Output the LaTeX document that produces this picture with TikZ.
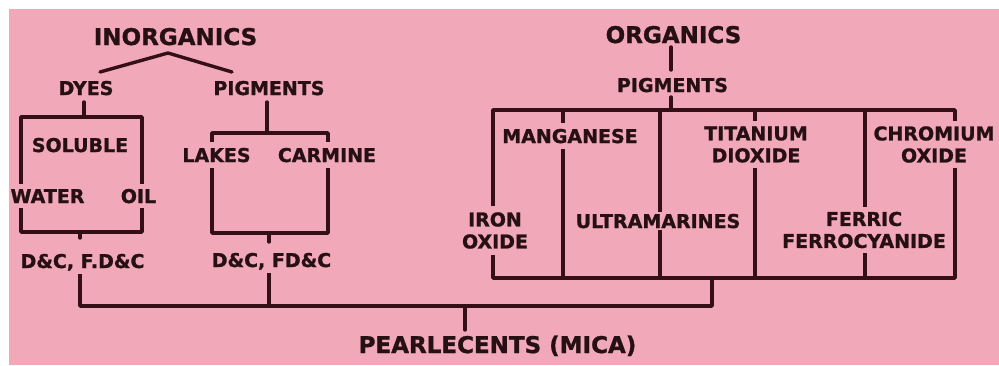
\documentclass[tikz,border=0pt]{standalone}
\usepackage{fontspec}
\setmainfont{DejaVu Sans}[BoldFeatures={FakeBold=1.2}]
\definecolor{bg}{RGB}{241,168,184}
\definecolor{lc}{RGB}{52,16,22}
\definecolor{txt}{RGB}{38,16,20}
\pgfdeclarelayer{bottom}
\pgfdeclarelayer{background}
\pgfsetlayers{bottom,background,main}
\begin{document}
\begin{tikzpicture}[x=1pt,y=-1pt,
  lbl/.style={font=\fontsize{19}{22}\selectfont\bfseries, text=txt, fill=bg, inner xsep=1pt, inner ysep=#1, align=center},
  lbl/.default=3pt,
  ttl/.style={font=\fontsize{23}{26}\selectfont\bfseries, text=txt, inner sep=1pt},
  ln/.style={draw=lc, line width=3.4pt, line join=round, line cap=round}]
\useasboundingbox (0,0) rectangle (999,365);
\begin{pgfonlayer}{bottom}
  \fill[white] (0,0) rectangle (999,365);
  \fill[bg] (9,9) rectangle (999,365);
\end{pgfonlayer}
% labels
\node[ttl, anchor=base] (inorg) at (175.5,45) {INORGANICS};
\node[lbl, anchor=base] (dyes) at (86,95) {DYES};
\node[lbl, anchor=base] (lpig) at (269,95) {PIGMENTS};
\node[lbl, anchor=base] (sol) at (80,152) {SOLUBLE};
\node[lbl=5pt, anchor=base] (water) at (47.5,203) {WATER};
\node[lbl=5pt, anchor=base] (oil) at (138.5,203) {OIL};
\node[lbl, anchor=base] (dc1) at (82.5,268) {D\&C, F.D\&C};
\node[lbl=6pt, anchor=base] (lakes) at (216.5,162) {LAKES};
\node[lbl=6pt, anchor=base] (carm) at (327,162) {CARMINE};
\node[lbl, anchor=base] (dc2) at (271.5,267) {D\&C, FD\&C};
\node[ttl, anchor=base] (pearl) at (497.5,353) {PEARLECENTS (MICA)};
\node[ttl, anchor=base] (org) at (673.5,43) {ORGANICS};
\node[lbl, anchor=base] (opig) at (672.5,92) {PIGMENTS};
\node[lbl=6pt, anchor=base] (mang) at (570,143) {MANGANESE};
\node[lbl=5pt] (ti) at (756,144.5) {TITANIUM\\DIOXIDE};
\node[lbl=5pt] (chrom) at (934,144.5) {CHROMIUM\\OXIDE};
\node[lbl=6pt] (iron) at (495,230.5) {IRON\\OXIDE};
\node[lbl=2pt, anchor=base] (ultra) at (658,228) {ULTRAMARINES};
\node[lbl=5pt] (ferric) at (864,230) {FERRIC\\FERROCYANIDE};
% junction points
\coordinate (iapex) at (168,53);
\coordinate (iL) at (100,72);
\coordinate (iR) at (232,72);
\coordinate (dtop) at (84,102);
\coordinate (dbox) at (84,117);
\coordinate (bxA) at (21,117);
\coordinate (bxB) at (142,232);
\coordinate (d1a) at (80,232);
\coordinate (d1b) at (80,238);
\coordinate (d1c) at (80,273);
\coordinate (d1d) at (80,306);
\coordinate (ptop) at (267,102);
\coordinate (pbox) at (267,133);
\coordinate (byA) at (212,133);
\coordinate (byB) at (328,233);
\coordinate (d2a) at (269,233);
\coordinate (d2b) at (269,242);
\coordinate (d2c) at (269,272);
\coordinate (d2d) at (269,306);
\coordinate (br) at (712,306);
\coordinate (brup) at (712,278);
\coordinate (pj) at (465,306);
\coordinate (pk) at (465,330);
\coordinate (o1) at (671,47);
\coordinate (o2) at (671,70);
\coordinate (o3) at (671,97);
\coordinate (o4) at (671,110);
\coordinate (rA) at (493,110);
\coordinate (rB) at (955,278);
\begin{pgfonlayer}{background}
  \draw[ln] (iL) -- (iapex) -- (iR);
  \draw[ln] (dtop) -- (dbox);
  \draw[ln] (bxA) rectangle (bxB);
  \draw[ln] (d1a) -- (d1b);
  \draw[ln] (d1c) -- (d1d) -- (br) -- (brup);
  \draw[ln] (ptop) -- (pbox);
  \draw[ln] (byA) rectangle (byB);
  \draw[ln] (d2a) -- (d2b);
  \draw[ln] (d2c) -- (d2d);
  \draw[ln] (pj) -- (pk);
  \draw[ln] (o1) -- (o2);
  \draw[ln] (o3) -- (o4);
  \draw[ln] (rA) rectangle (rB);
  \foreach \xx in {563,660,755,865} \draw[ln] (\xx,110) -- (\xx,278);
\end{pgfonlayer}
\end{tikzpicture}
\end{document}
